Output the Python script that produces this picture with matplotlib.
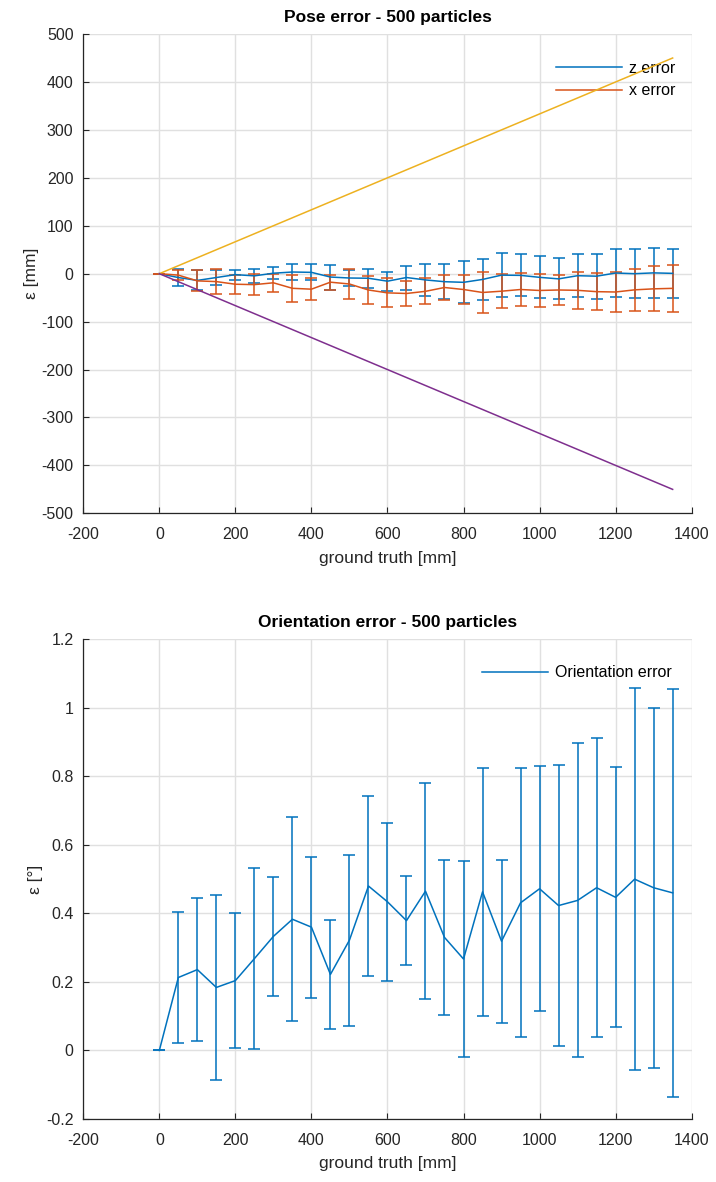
import matplotlib
matplotlib.use("Agg")

import matplotlib.pyplot as plt
from matplotlib.lines import Line2D
from matplotlib.ticker import FuncFormatter

plt.rcParams["font.family"] = ["Liberation Sans", "DejaVu Sans"]
plt.rcParams["axes.unicode_minus"] = False

# ground truth positions [mm]
gt = [0, 50, 100, 150, 200, 250, 300, 350, 400, 450, 500, 550, 600, 650,
      700, 750, 800, 850, 900, 950, 1000, 1050, 1100, 1150, 1200, 1250, 1300, 1350]

# pose error, z component [mm]
z_err = [0, -8, -14, -8, -2, -4.5, 1, 3.5, 2.8, -7, -9, -9.5, -15.6, -8,
         -13, -16.7, -18, -12, -3, -3.5, -7.6, -10.8, -4.2, -5.2, 1.4, 0, 1.7, 0.7]
z_std = [0, 18, 21, 16.5, 10.5, 15, 13, 16, 16.7, 26, 16, 20, 19.8, 25,
         34, 36, 43.7, 42, 46, 43.7, 43.7, 42.7, 44.4, 46.9, 49.3, 51.4, 51.4, 50.7]

# pose error, x component [mm]
x_err = [0, -3, -15, -16.5, -22, -22.8, -19, -30.5, -32.3, -17.7, -21.5, -34, -40, -41.3,
         -36.8, -28.8, -33, -39.2, -36.5, -33, -35, -34, -34.7, -37.5, -38.2, -33.7, -31.6, -30.6]
x_std = [0, 10, 22, 25.5, 20, 22.3, 18.5, 28.5, 23.3, 15.6, 31, 30, 30, 26.7,
         27, 26.7, 30.9, 42, 35.8, 34.4, 35.1, 31.9, 38.2, 38.9, 41.7, 43.4, 46.9, 49.3]

# bound lines
bound_x = [0, 1350]
bound_up = [0, 450]
bound_lo = [0, -450]

# orientation error [deg]
ori_err = [0, 0.213, 0.236, 0.184, 0.204, 0.268, 0.333, 0.383, 0.360, 0.222, 0.322, 0.480, 0.434, 0.379,
           0.465, 0.330, 0.267, 0.463, 0.319, 0.431, 0.472, 0.423, 0.438, 0.475, 0.447, 0.500, 0.475, 0.460]
ori_std = [0, 0.19, 0.208, 0.27, 0.197, 0.264, 0.173, 0.298, 0.206, 0.159, 0.25, 0.263, 0.23, 0.13,
           0.315, 0.225, 0.286, 0.362, 0.238, 0.393, 0.358, 0.411, 0.458, 0.437, 0.379, 0.558, 0.525, 0.595]

BLUE = "#0072BD"
ORANGE = "#D95319"
YELLOW = "#EDB120"
PURPLE = "#7E2F8E"
DARK = "#262626"
GRID = "#e0e0e0"


def style_axes(ax):
    ax.spines["top"].set_visible(False)
    ax.spines["right"].set_visible(False)
    for s in ("left", "bottom"):
        ax.spines[s].set_color(DARK)
        ax.spines[s].set_linewidth(0.9)
    ax.set_axisbelow(True)
    ax.grid(True, color=GRID, linewidth=1.0)
    ax.tick_params(direction="in", length=4.5, width=0.8, colors=DARK, labelsize=11.5)
    ax.tick_params(axis="x", pad=10)
    ax.tick_params(axis="y", pad=7)
    ax.xaxis.set_major_formatter(FuncFormatter(lambda v, p: "%g" % v))
    ax.yaxis.set_major_formatter(FuncFormatter(lambda v, p: "%g" % round(v, 6)))


fig = plt.figure(figsize=(7.16, 11.82), dpi=100)
ax1 = fig.add_axes([0.1163, 0.5657, 0.8497, 0.4055])
ax2 = fig.add_axes([0.1163, 0.0533, 0.8497, 0.4058])

# --------- Pose error ---------
ekw = dict(capsize=4.3, elinewidth=1.1, capthick=1.1, linewidth=1.1)
ax1.errorbar(gt, z_err, yerr=z_std, color=BLUE, **ekw)
ax1.errorbar(gt, x_err, yerr=x_std, color=ORANGE, **ekw)
ax1.plot(bound_x, bound_up, color=YELLOW, linewidth=1.1, zorder=4)
ax1.plot(bound_x, bound_lo, color=PURPLE, linewidth=1.1, zorder=4)

ax1.set_xlim(-200, 1400)
ax1.set_ylim(-500, 500)
ax1.set_xticks(range(-200, 1401, 200))
ax1.set_yticks(range(-500, 501, 100))
style_axes(ax1)
ax1.set_title("Pose error - 500 particles", fontsize=12.5, fontweight="bold",
              color="black", pad=9)
ax1.set_xlabel("ground truth [mm]", fontsize=12.5, color=DARK, labelpad=6)
ax1.set_ylabel("\u03b5 [mm]", fontsize=12.5, color=DARK, labelpad=2)
handles1 = [Line2D([], [], color=BLUE, linewidth=1.1),
            Line2D([], [], color=ORANGE, linewidth=1.1)]
leg1 = ax1.legend(handles1, ["z error", "x error"], loc="upper left",
                  bbox_to_anchor=(0.767, 0.957), frameon=False,
                  fontsize=11.5, handlelength=4.1, handletextpad=0.45,
                  labelspacing=0.45, borderpad=0.4, borderaxespad=0)
leg1.set_zorder(3)

# --------- Orientation error ---------
ax2.errorbar(gt, ori_err, yerr=ori_std, color=BLUE, **ekw)
ax2.set_xlim(-200, 1400)
ax2.set_ylim(-0.2, 1.2)
ax2.set_xticks(range(-200, 1401, 200))
ax2.set_yticks([-0.2, 0, 0.2, 0.4, 0.6, 0.8, 1.0, 1.2])
style_axes(ax2)
ax2.set_title("Orientation error - 500 particles", fontsize=12.5, fontweight="bold",
              color="black", pad=9)
ax2.set_xlabel("ground truth [mm]", fontsize=12.5, color=DARK, labelpad=6)
ax2.set_ylabel("\u03b5 [\u00b0]", fontsize=12.5, color=DARK, labelpad=2)
ax2.legend([Line2D([], [], color=BLUE, linewidth=1.1)], ["Orientation error"],
           loc="upper left", bbox_to_anchor=(0.645, 0.959), frameon=False,
           fontsize=11.5, handlelength=4.1, handletextpad=0.45,
           borderpad=0.4, borderaxespad=0)

fig.savefig("out.png", dpi=100)
plt.close(fig)
